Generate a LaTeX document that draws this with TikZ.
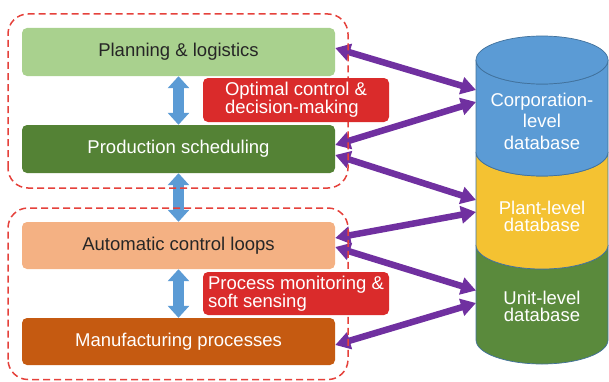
\documentclass[tikz,border=0pt]{standalone}
\usepackage{fontspec}
\setmainfont{Liberation Sans}
\usetikzlibrary{arrows.meta}

\definecolor{lightgreen}{HTML}{A9D18E}
\definecolor{darkgreen}{HTML}{548235}
\definecolor{peach}{HTML}{F4B183}
\definecolor{rust}{HTML}{C55A11}
\definecolor{alertred}{HTML}{DA2B2B}
\definecolor{linkblue}{HTML}{5B9BD5}
\definecolor{linkpurple}{HTML}{7030A0}
\definecolor{dashred}{HTML}{E5413B}
\definecolor{dbblue}{HTML}{5B9BD5}
\definecolor{dbyellow}{HTML}{F4C232}
\definecolor{dbgreen}{HTML}{5A8A3C}
\definecolor{dboutline}{HTML}{41719C}
\definecolor{darktext}{HTML}{262626}

\begin{document}
\begin{tikzpicture}[x=1pt, y=1pt,
  layerbox/.style={rounded corners=5pt, minimum width=313pt, minimum height=48pt, font=\fontsize{18.5}{22}\selectfont},
  taskbox/.style={fill=alertred, text=white, rounded corners=5pt, minimum width=186pt, minimum height=44pt, align=left, font=\fontsize{18.5}{17}\selectfont},
  group/.style={draw=dashred, line width=1.5pt, dash pattern=on 7pt off 4pt, rounded corners=20pt},
  updown/.style={draw=linkblue, line width=11pt, {Triangle[width=21pt,length=12pt]}-{Triangle[width=21pt,length=12pt]}},
  datalink/.style={draw=linkpurple, line width=6.5pt, {Triangle[width=17pt,length=15pt]}-{Triangle[width=17pt,length=15pt]}},
  segment/.style={draw=dboutline, line width=0.7pt},
  dbtext/.style={text=white, align=center, font=\fontsize{18.5}{17.5}\selectfont}]

\useasboundingbox (0,0) rectangle (609,381);

\node[layerbox, fill=lightgreen, text=darktext] (plan) at (178.5,329) {Planning \& logistics};
\node[layerbox, fill=darkgreen, text=white] (prod) at (178.5,232) {Production scheduling};
\node[layerbox, fill=peach, text=darktext, minimum height=47pt] (auto) at (178.5,135.5) {Automatic control loops};
\node[layerbox, fill=rust, text=white, minimum height=47pt] (manuf) at (178.5,39.5) {Manufacturing processes};

\draw[updown] (plan.south) -- (prod.north);
\draw[updown] (prod.south) -- (auto.north);
\draw[updown] (auto.south) -- (manuf.north);

% database stack
\filldraw[segment, fill=dbgreen] (476,136) -- (476,41) arc[start angle=180, end angle=360, x radius=66, y radius=24] -- (608,136) arc[start angle=0, end angle=-180, x radius=66, y radius=24] -- cycle;
\filldraw[segment, fill=dbyellow] (476,229) -- (476,136) arc[start angle=180, end angle=360, x radius=66, y radius=24] -- (608,229) arc[start angle=0, end angle=-180, x radius=66, y radius=24] -- cycle;
\filldraw[segment, fill=dbblue] (476,321) -- (476,229) arc[start angle=180, end angle=360, x radius=66, y radius=24] -- (608,321) arc[start angle=0, end angle=-180, x radius=66, y radius=24] -- cycle;
\filldraw[segment, fill=dbblue] (542,321) ellipse[x radius=66, y radius=24];

\node[dbtext, font=\fontsize{18.5}{21.5}\selectfont] (corp) at (542,260) {Corporation-\\level\\database};
\node[dbtext] (plant) at (542,164.5) {Plant-level\\database};
\node[dbtext] (unit) at (542,74.5) {Unit-level\\database};

\coordinate (corp in) at (476,285);
\coordinate (plant in) at (476,175);
\coordinate (unit in) at (476,84.5);

\draw[datalink] ([yshift=4pt]plan.east) -- ([yshift=6pt]corp in);
\draw[datalink] ([yshift=4pt]prod.east) -- ([yshift=-6pt]corp in);
\draw[datalink] ([yshift=-6pt]prod.east) -- ([yshift=6pt]plant in);
\draw[datalink] ([yshift=7.5pt]auto.east) -- ([yshift=-6pt]plant in);
\draw[datalink] ([yshift=-1.5pt]auto.east) -- ([yshift=6pt]unit in);
\draw[datalink] ([yshift=-3.5pt]manuf.east) -- ([yshift=-6.5pt]unit in);

\draw[group] (8,193) rectangle (348,367);
\draw[group] (8,1.5) rectangle (348,173);

\node[taskbox] (optim) at (296,281) {Optimal control \&\\decision-making};
\node[taskbox, minimum height=43pt] (monitor) at (296,87.5) {Process monitoring \&\\soft sensing};
\end{tikzpicture}
\end{document}
